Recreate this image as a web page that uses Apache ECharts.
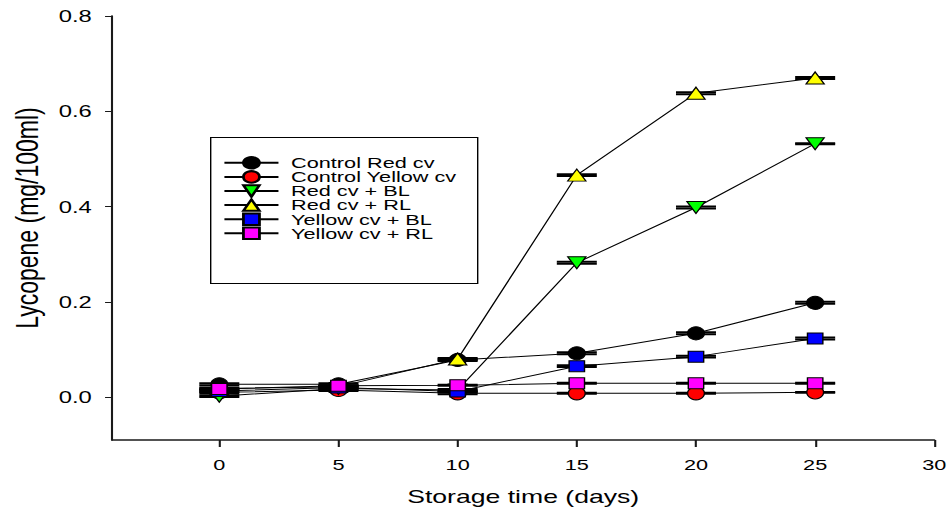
<!DOCTYPE html>
<html>
<head>
<meta charset="utf-8">
<script src="https://cdn.jsdelivr.net/npm/echarts@6/dist/echarts.min.js"></script>
<style>
html,body{margin:0;padding:0;background:#fff;overflow:hidden;}
#main{height:514px;transform-origin:0 0;}
</style>
</head>
<body>
<div id="main"></div>
<script>
// ---- data ----
const days = [0, 5, 10, 15, 20, 25];
const seriesNames = ['Control Red cv', 'Control Yellow cv', 'Red cv + BL', 'Red cv + RL', 'Yellow cv + BL', 'Yellow cv + RL'];
const controlRed    = [0.027, 0.027, 0.078, 0.092, 0.134, 0.198];
const controlYellow = [0.010, 0.015, 0.008, 0.008, 0.008, 0.010];
const redBL         = [0.002, 0.018, 0.015, 0.282, 0.398, 0.532];
const redRL         = [0.018, 0.022, 0.080, 0.466, 0.638, 0.670];
const yellowBL      = [0.013, 0.020, 0.012, 0.065, 0.085, 0.123];
const yellowRL      = [0.017, 0.024, 0.025, 0.029, 0.029, 0.029];
const controlRedErr    = [0.002, 0.002, 0.002, 0.002, 0.002, 0.002];
const controlYellowErr = [0.002, 0.002, 0.002, 0.001, 0.001, 0.001];
const redBLErr         = [0.002, 0.002, 0.002, 0.002, 0.002, 0.001];
const redRLErr         = [0.002, 0.002, 0.002, 0.002, 0.002, 0.002];
const yellowBLErr      = [0.002, 0.002, 0.002, 0.002, 0.002, 0.002];
const yellowRLErr      = [0.001, 0.001, 0.001, 0.001, 0.001, 0.001];
const xTicks = [0, 5, 10, 15, 20, 25, 30];
const yTicks = [0, 0.2, 0.4, 0.6, 0.8];

const values = [controlRed, controlYellow, redBL, redRL, yellowBL, yellowRL];
const errors = [controlRedErr, controlYellowErr, redBLErr, redRLErr, yellowBLErr, yellowRLErr];

// ---- styling ----
const SX = 1.4;                 // horizontal stretch of the reference picture
const W = 950 / SX;
const dom = document.getElementById('main');
dom.style.width = W + 'px';
dom.style.transform = 'scaleX(' + SX + ')';

const FONT = "'Liberation Sans', Arial, sans-serif";
const fills = ['#000000', '#ff0000', '#00ff00', '#ffff00', '#0000ff', '#ff00ff'];
const symbols = ['circle', 'circle', 'triangle', 'triangle', 'rect', 'rect'];
const rotates = [0, 0, 180, 0, 0, 0];
const sizes = [[12, 13], [12, 13], [13, 12], [13, 12], [11, 11], [11, 11]];

const series = [];
seriesNames.forEach((name, i) => {
  series.push({
    name: 'err' + i,
    type: 'custom',
    z: 1,
    silent: true,
    data: days.map((d, j) => [d, values[i][j], errors[i][j]]),
    renderItem: function (params, api) {
      const x = api.value(0), y = api.value(1), e = api.value(2);
      const top = api.coord([x, y + e]);
      const bot = api.coord([x, y - e]);
      const hw = 40 / SX / 2;
      const st = { stroke: '#000', lineWidth: 2 };
      return {
        type: 'group',
        children: [
          { type: 'line', shape: { x1: top[0] - hw, y1: top[1], x2: top[0] + hw, y2: top[1] }, style: st },
          { type: 'line', shape: { x1: bot[0] - hw, y1: bot[1], x2: bot[0] + hw, y2: bot[1] }, style: st },
          { type: 'line', shape: { x1: top[0], y1: top[1], x2: bot[0], y2: bot[1] }, style: { stroke: '#000', lineWidth: 1 } }
        ]
      };
    }
  });
});
seriesNames.forEach((name, i) => {
  series.push({
    name: name,
    type: 'line',
    z: 2 + i,
    data: days.map((d, j) => [d, values[i][j]]),
    symbol: symbols[i],
    symbolRotate: rotates[i],
    symbolSize: sizes[i],
    showAllSymbol: true,
    lineStyle: { color: '#000', width: 1 },
    itemStyle: { color: fills[i], borderColor: '#000', borderWidth: 1, opacity: 1 },
    emphasis: { disabled: true }
  });
});

const chart = echarts.init(dom, null, { renderer: 'svg' });
chart.setOption({
  animation: false,
  backgroundColor: '#fff',
  textStyle: { fontFamily: FONT },
  grid: { left: 109 / SX, right: W - 937 / SX, top: 16, bottom: 74, containLabel: false },
  xAxis: {
    type: 'value', min: -4.5, max: 30,
    name: 'Storage time (days)', nameLocation: 'middle', nameGap: 47,
    nameTextStyle: { fontFamily: FONT, fontSize: 19, color: '#000', lineHeight: 19 },
    axisLine: { show: true, onZero: false, lineStyle: { color: '#1a1a1a', width: 1.5 } },
    axisTick: { show: true, length: 7, customValues: xTicks, lineStyle: { color: '#1a1a1a', width: 1.5 } },
    axisLabel: { customValues: xTicks, fontFamily: FONT, fontSize: 15.5, color: '#000', margin: 17 },
    splitLine: { show: false }
  },
  yAxis: {
    type: 'value', min: -0.09, max: 0.8,
    name: 'Lycopene (mg/100ml)', nameLocation: 'middle', nameGap: 48,
    nameTextStyle: { fontFamily: FONT, fontSize: 23, color: '#000', lineHeight: 23, padding: [0, 0, 0, 20] },
    axisLine: { show: true, onZero: false, lineStyle: { color: '#1a1a1a', width: 1.5 } },
    axisTick: { show: true, length: 5, customValues: yTicks, lineStyle: { color: '#1a1a1a', width: 1 } },
    axisLabel: { customValues: yTicks, fontFamily: FONT, fontSize: 17, color: '#000', margin: 14.5,
      formatter: v => v.toFixed(1) },
    splitLine: { show: false }
  },
  legend: {
    data: seriesNames,
    orient: 'vertical',
    left: 159.3, top: 154.8,
    padding: 0,
    itemWidth: 38.6, itemHeight: 14.3, itemGap: -1.9,
    textStyle: { fontFamily: FONT, fontSize: 15.5, color: '#000', lineHeight: 14.3, padding: [0, 0, 0, 4] },
    selectedMode: false,
    inactiveColor: '#000'
  },
  graphic: [{
    type: 'rect', left: 150, top: 137, z: 0,
    shape: { width: 267 / SX, height: 146 },
    style: { fill: '#fff', stroke: '#000', lineWidth: 1 }
  }],
  series: series
});
</script>
</body>
</html>
